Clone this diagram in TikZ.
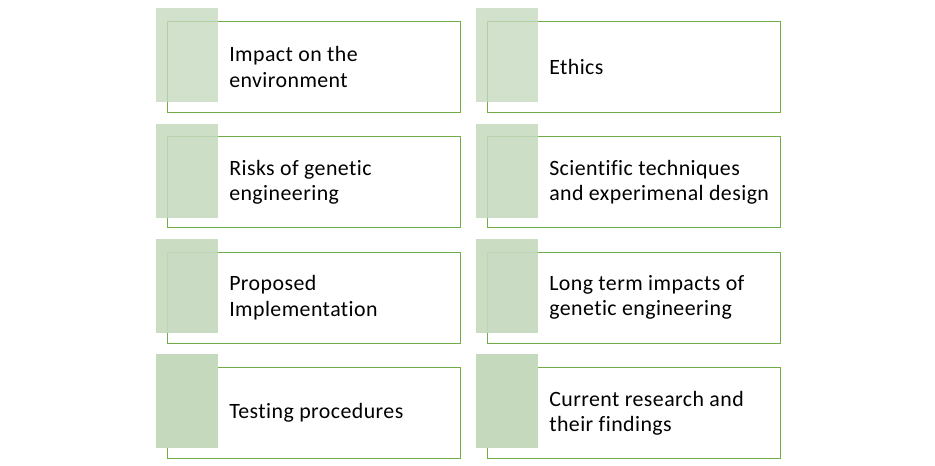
\documentclass[tikz,border=0pt]{standalone}
\usepackage{fontspec}
\setmainfont{Carlito}[Ligatures=NoCommon, LetterSpace=2]
\usetikzlibrary{positioning}
\definecolor{leafline}{HTML}{70AD47}
\definecolor{leaffill}{HTML}{C5D9BD}
\tikzset{
  topicbox/.style={draw=leafline, line width=0.8pt, fill=white, anchor=north west,
    minimum width=219.75pt, minimum height=68.25pt, inner sep=0pt},
  tabbox/.style={fill=leaffill, anchor=north west, draw=none,
    minimum width=46.5pt, minimum height=70.5pt, inner sep=0pt},
  topictext/.style={anchor=west, align=left, inner sep=0pt,
    font=\fontsize{16.4}{18.9}\selectfont}
}

\begin{document}
\begin{tikzpicture}[x=0.75pt, y=-0.75pt]
			%%%%% START %%%%%
			\useasboundingbox (0,0) rectangle (935,466);
			
			% left column
			\node[topicbox] (impbox) at (167, 21) {};
			\node[tabbox, fill opacity=0.78] (imptab) at (156, 8) {};
			\node[topictext] (imptxt) at ([xshift=46.5pt]impbox.west) {Impact on the\\environment};
			
			\node[topicbox] (riskbox) at (167, 136.3) {};
			\node[tabbox, fill opacity=0.85] (risktab) at (156, 123.3) {};
			\node[topictext] (risktxt) at ([xshift=46.5pt]riskbox.west) {Risks of genetic\\engineering};
			
			\node[topicbox] (propbox) at (167, 251.7) {};
			\node[tabbox, fill opacity=0.92] (proptab) at (156, 238.7) {};
			\node[topictext] (proptxt) at ([xshift=46.5pt]propbox.west) {Proposed\\Implementation};
			
			\node[topicbox] (testbox) at (167, 367) {};
			\node[tabbox] (testtab) at (156, 354) {};
			\node[topictext] (testtxt) at ([xshift=46.5pt]testbox.west) {Testing procedures};
			
			% right column
			\node[topicbox] (ethbox) at (487, 21) {};
			\node[tabbox, fill opacity=0.78] (ethtab) at (476, 8) {};
			\node[topictext] (ethtxt) at ([xshift=46.5pt]ethbox.west) {Ethics};
			
			\node[topicbox] (scibox) at (487, 136.3) {};
			\node[tabbox, fill opacity=0.85] (scitab) at (476, 123.3) {};
			\node[topictext] (scitxt) at ([xshift=46.5pt]scibox.west) {Scientific techniques\\and experimenal design};
			
			\node[topicbox] (longbox) at (487, 251.7) {};
			\node[tabbox, fill opacity=0.92] (longtab) at (476, 238.7) {};
			\node[topictext] (longtxt) at ([xshift=46.5pt]longbox.west) {Long term impacts of\\genetic engineering};
			
			\node[topicbox] (curbox) at (487, 367) {};
			\node[tabbox] (curtab) at (476, 354) {};
			\node[topictext] (curtxt) at ([xshift=46.5pt]curbox.west) {Current research and\\their findings};
			
			%%%%% END %%%%%
\end{tikzpicture}
\end{document}
